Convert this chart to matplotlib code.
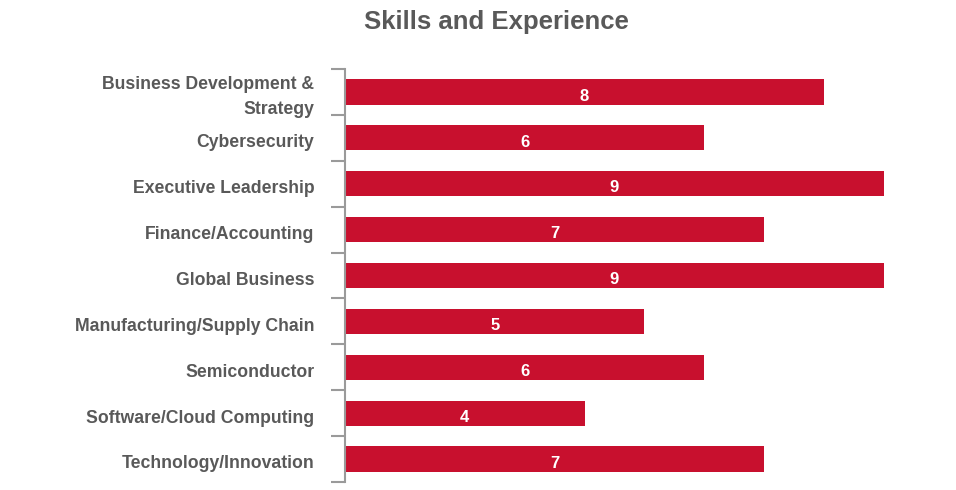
import matplotlib.pyplot as plt

plt.rcParams['font.family'] = ['Liberation Sans', 'DejaVu Sans']

categories = [
    "Business Development &\nStrategy",
    "Cybersecurity",
    "Executive Leadership",
    "Finance/Accounting",
    "Global Business",
    "Manufacturing/Supply Chain",
    "Semiconductor",
    "Software/Cloud Computing",
    "Technology/Innovation",
]
counts = [8, 6, 9, 7, 9, 5, 6, 4, 7]

bar_color = '#C8102E'
text_gray = '#595959'
axis_gray = '#9A9A9A'


def main():
    fig = plt.figure(figsize=(9.56, 4.9), dpi=100)
    ax = fig.add_axes([345 / 956, 1 - 482 / 490, (884 - 345) / 956, (482 - 69) / 490])

    y = list(range(len(categories)))
    bars = ax.barh(y, counts, height=0.55, color=bar_color)
    for b, v in zip(bars, counts):
        ax.annotate(str(v), (b.get_width() / 2, b.get_y() + b.get_height() / 2),
                    xytext=(0, -3), textcoords='offset points',
                    ha='center', va='center', color='white', fontsize=12, fontweight='bold')

    ax.set_xlim(0, 9)
    ax.set_ylim(len(categories) - 0.5, -0.5)
    ax.set_xticks([])

    # category labels drawn by hand so they can sit a bit low like the original
    ax.set_yticks([])
    for i, name in enumerate(categories):
        ax.annotate(name, (0, i), xycoords=('axes fraction', 'data'),
                    xytext=(-22, -3.5), textcoords='offset points',
                    ha='right', va='center', multialignment='right', linespacing=1.6,
                    fontsize=12.7, fontweight='bold', color=text_gray)
    ax.set_yticks([i - 0.5 for i in range(len(categories) + 1)], minor=True)
    ax.tick_params(axis='y', which='minor', length=10, width=1.5, color=axis_gray)

    for s in ['top', 'right', 'bottom']:
        ax.spines[s].set_visible(False)
    ax.spines['left'].set_color(axis_gray)
    ax.spines['left'].set_linewidth(1.5)

    fig.text(496 / 956, 1 - 22 / 490, "Skills and Experience", ha='center', va='center',
             fontsize=18.5, fontweight='bold', color=text_gray)

    fig.savefig("out.png", dpi=100)
    plt.close(fig)


if __name__ == "__main__":
    main()
